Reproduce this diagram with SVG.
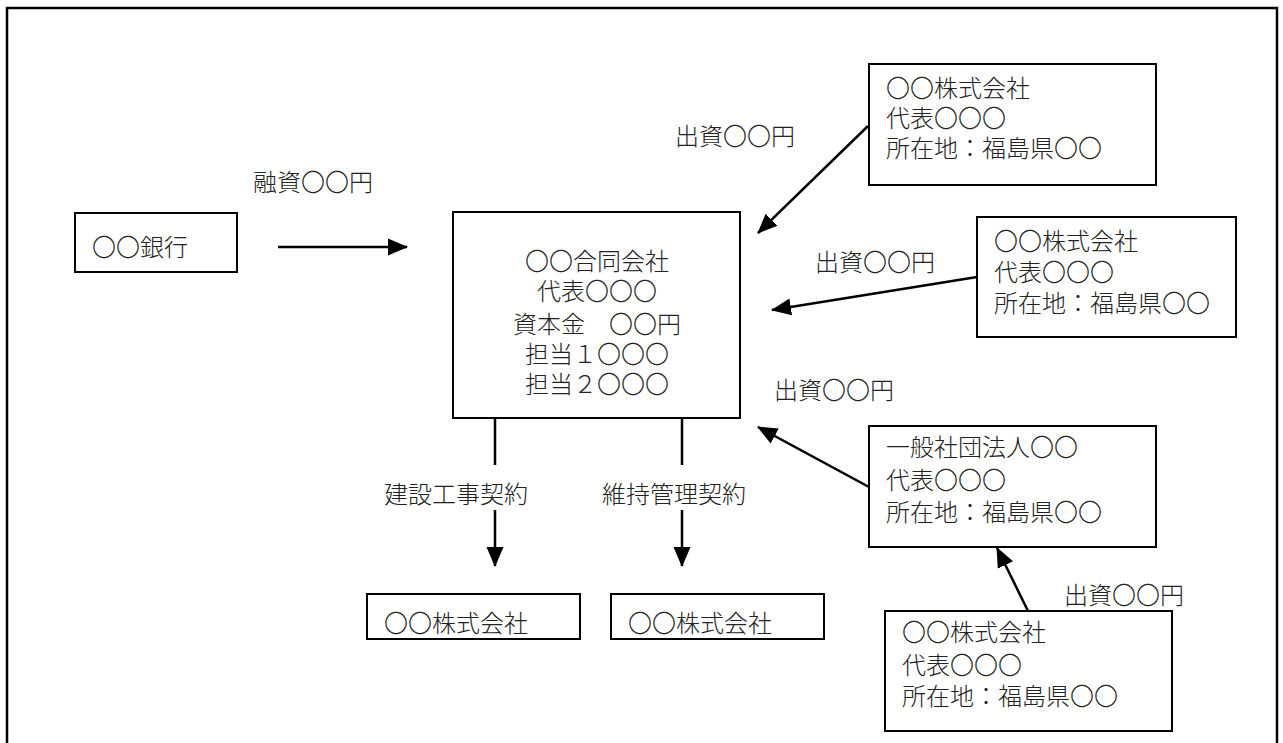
<svg xmlns="http://www.w3.org/2000/svg" width="1283" height="743" viewBox="0 0 1283 743">
<style>
.box{fill:#fff;stroke:#000;stroke-width:2}
.t{font-family:"Noto Sans CJK JP","Liberation Sans",sans-serif;font-size:24px;font-weight:300;fill:#222;dominant-baseline:central}
.c{text-anchor:middle}
.ln{stroke:#000;stroke-width:2.5;fill:none}
</style>
<defs>
<marker id="ah" markerUnits="userSpaceOnUse" markerWidth="20" markerHeight="20" viewBox="0 0 20 20" refX="19" refY="10" orient="auto">
<path d="M0,1.5 L20,10 L0,18.5 Z" fill="#000"/>
</marker>
</defs>
<rect x="7" y="8" width="1270" height="745" fill="#fff" stroke="#000" stroke-width="2.5"/>
<g id="bank">
<rect class="box" x="75" y="213" width="162" height="59"/>
<text class="t" x="92" y="245">〇〇銀行</text>
</g>
<g id="main">
<rect class="box" x="453" y="212" width="287" height="206"/>
<text class="t c" x="597" y="259">〇〇合同会社</text>
<text class="t c" x="597" y="289">代表〇〇〇</text>
<text class="t c" x="597" y="322">資本金　〇〇円</text>
<text class="t c" x="597" y="352">担当１〇〇〇</text>
<text class="t c" x="597" y="382">担当２〇〇〇</text>
</g>
<g id="inv1">
<rect class="box" x="869" y="64" width="287" height="121"/>
<text class="t" x="886" y="86">〇〇株式会社</text>
<text class="t" x="886" y="116">代表〇〇〇</text>
<text class="t" x="886" y="146">所在地：福島県〇〇</text>
</g>
<g id="inv2">
<rect class="box" x="977" y="217" width="259" height="120"/>
<text class="t" x="994" y="239">〇〇株式会社</text>
<text class="t" x="994" y="270">代表〇〇〇</text>
<text class="t" x="994" y="301">所在地：福島県〇〇</text>
</g>
<g id="inv3">
<rect class="box" x="869" y="426" width="287" height="121"/>
<text class="t" x="886" y="445">一般社団法人〇〇</text>
<text class="t" x="886" y="478">代表〇〇〇</text>
<text class="t" x="886" y="510">所在地：福島県〇〇</text>
</g>
<g id="inv4">
<rect class="box" x="885" y="611" width="287" height="120"/>
<text class="t" x="902" y="630">〇〇株式会社</text>
<text class="t" x="902" y="663">代表〇〇〇</text>
<text class="t" x="902" y="694">所在地：福島県〇〇</text>
</g>
<g id="contractor1">
<rect class="box" x="367" y="594" width="213" height="45"/>
<text class="t" x="384" y="621">〇〇株式会社</text>
</g>
<g id="contractor2">
<rect class="box" x="611" y="594" width="213" height="45"/>
<text class="t" x="628" y="621">〇〇株式会社</text>
</g>
<g id="connectors">
<line class="ln" x1="278" y1="247" x2="407" y2="247" marker-end="url(#ah)"/>
<line class="ln" x1="868" y1="126" x2="758" y2="233" marker-end="url(#ah)"/>
<line class="ln" x1="977" y1="277" x2="772" y2="310" marker-end="url(#ah)"/>
<line class="ln" x1="869" y1="487" x2="758" y2="427" marker-end="url(#ah)"/>
<line class="ln" x1="1028" y1="611" x2="997" y2="548" marker-end="url(#ah)"/>
<line class="ln" x1="495" y1="418" x2="495" y2="465"/>
<line class="ln" x1="495" y1="510" x2="495" y2="566" marker-end="url(#ah)"/>
<line class="ln" x1="682" y1="418" x2="682" y2="465"/>
<line class="ln" x1="682" y1="510" x2="682" y2="566" marker-end="url(#ah)"/>
</g>
<g id="labels">
<text class="t" x="253" y="180">融資〇〇円</text>
<text class="t" x="675" y="134">出資〇〇円</text>
<text class="t" x="815" y="260">出資〇〇円</text>
<text class="t" x="774" y="388">出資〇〇円</text>
<text class="t" x="1064" y="593">出資〇〇円</text>
<text class="t" x="384" y="492">建設工事契約</text>
<text class="t" x="602" y="492">維持管理契約</text>
</g>
</svg>
